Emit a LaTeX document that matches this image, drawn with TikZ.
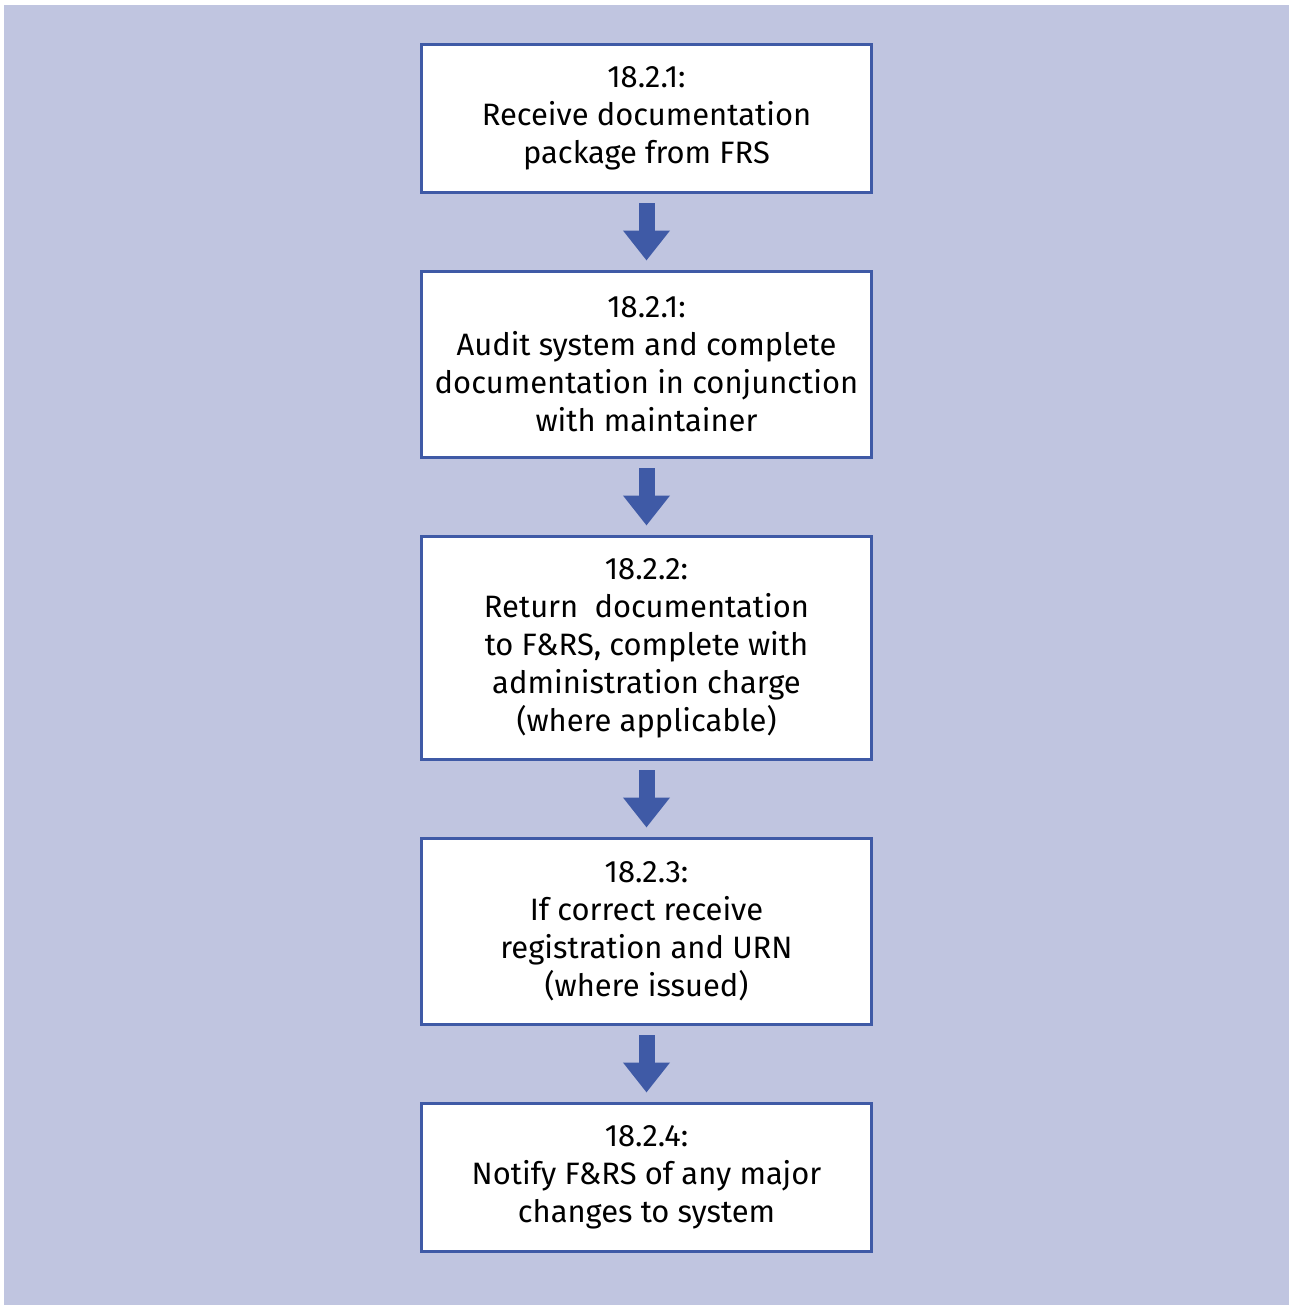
\documentclass[tikz,border=0pt]{standalone}
\usepackage{fontspec}
\setmainfont{Fira Sans}
\usetikzlibrary{arrows.meta}
\definecolor{panel-bg}{HTML}{C0C5E0}
\definecolor{flow-blue}{HTML}{3F5AA6}

\begin{document}
\begin{tikzpicture}[x=0.02cm, y=-0.02cm,
    stepbox/.style={draw=flow-blue, line width=0.06cm, fill=white,
      minimum width=9.02cm, align=center, font=\fontsize{17.6}{21.6}\selectfont,
      inner sep=0pt},
    flowarrow/.style={draw=flow-blue, line width=0.32cm,
      -{Triangle[width=0.9cm, length=0.6cm]}, shorten <=0.18cm, shorten >=0.18cm}]
    \useasboundingbox (0,0) rectangle (1289,1306);
    \fill[white] (0,0) rectangle (1289,1306);
    \fill[panel-bg] (4,5) rectangle (1289,1305);
    % the five steps
    \node[stepbox, minimum height=2.98cm] (receive) at (646.5,118.5)
      {18.2.1:\\Receive documentation\\package from FRS};
    \node[stepbox, minimum height=3.74cm] (audit) at (646.5,364.5)
      {18.2.1:\\Audit system and complete\\documentation in conjunction\\with maintainer};
    \node[stepbox, minimum height=4.48cm] (return) at (646.5,648)
      {18.2.2:\\Return~ documentation\\to F\&RS, complete with\\administration charge\\(where applicable)};
    \node[stepbox, minimum height=3.74cm] (register) at (646.5,931.5)
      {18.2.3:\\If correct receive\\registration and URN\\(where issued)};
    \node[stepbox, minimum height=2.96cm] (notify) at (646.5,1177)
      {18.2.4:\\Notify F\&RS of any major\\changes to system};
    % arrows between them
    \draw[flowarrow] (receive) -- (audit);
    \draw[flowarrow] (audit) -- (return);
    \draw[flowarrow] (return) -- (register);
    \draw[flowarrow] (register) -- (notify);
\end{tikzpicture}
\end{document}
